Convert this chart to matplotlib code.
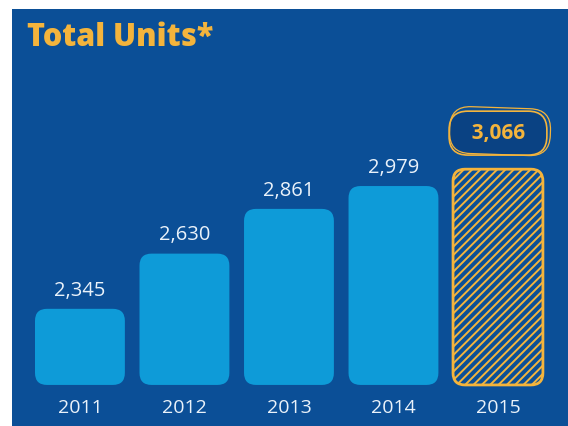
import matplotlib.pyplot as plt
from matplotlib.patches import FancyBboxPatch

# units sold per year, last year highlighted
years = ['2011', '2012', '2013', '2014', '2015']
units = [2345, 2630, 2861, 2979, 3066]

PANEL = '#0b4f97'
BAR = '#0e9bd8'
GOLD = '#f4b43c'
WHITE = '#eaf2fa'
BASE = 1952

plt.rcParams['font.family'] = ['Open Sans', 'DejaVu Sans']
plt.rcParams['hatch.linewidth'] = 1.4

fig = plt.figure(figsize=(5.68, 4.26), dpi=100)
fig.patch.set_facecolor('white')
ax = fig.add_axes([12 / 568, 0, 556 / 568, 417 / 426])
ax.set_facecolor(PANEL)
ax.set_xlim(-0.65, 4.67)
ax.set_ylim(1740, 3893)
for s in ax.spines.values():
    s.set_visible(False)
ax.set_yticks([])

# keep the corner radius round despite very different x/y scales
x_per_px = (4.67 + 0.65) / 556
y_per_px = (3893 - 1740) / 417
aspect = y_per_px / x_per_px
radius = 12 * x_per_px
width = 0.86

for i, v in enumerate(units):
    last = i == len(units) - 1
    patch = FancyBboxPatch((i - width / 2, BASE), width, v - BASE,
                           boxstyle='round,pad=0,rounding_size=%f' % radius,
                           mutation_aspect=aspect,
                           facecolor=PANEL if last else BAR,
                           edgecolor=GOLD if last else 'none',
                           hatch='////' if last else None,
                           linewidth=2 if last else 0)
    ax.add_patch(patch)
    label = '{:,}'.format(v)
    if last:
        ax.annotate('  ' + label + '  ', (i, v), xytext=(0, 22), textcoords='offset points',
                    ha='center', va='baseline', fontsize=15, fontweight='bold',
                    color=GOLD,
                    bbox=dict(boxstyle='round,pad=0.55,rounding_size=0.9',
                              fc='#0a4283', ec=GOLD, lw=1.2))
        # second loose outline for the hand-drawn look
        ax.annotate('  ' + label + '  ', (i, v), xytext=(1.5, 22.5), textcoords='offset points',
                    ha='center', va='baseline', fontsize=15, fontweight='bold',
                    color='none', rotation=-2,
                    bbox=dict(boxstyle='round,pad=0.62,rounding_size=1.0',
                              fc='none', ec=GOLD, lw=0.9))
    else:
        ax.annotate(label, (i, v), xytext=(0, 9.5), textcoords='offset points',
                    ha='center', va='baseline', fontsize=14.5, color=WHITE)

ax.spines['bottom'].set_position(('data', BASE))
ax.set_xticks(range(len(years)))
ax.set_xticklabels(years, fontsize=14, color=WHITE)
ax.tick_params(axis='x', length=0, pad=10)

fig.text(27 / 568, 1 - 38 / 426, 'Total Units*', fontsize=22, fontweight='heavy',
         color=GOLD, va='center', ha='left')

fig.savefig('out.png', dpi=100, facecolor=fig.get_facecolor())
